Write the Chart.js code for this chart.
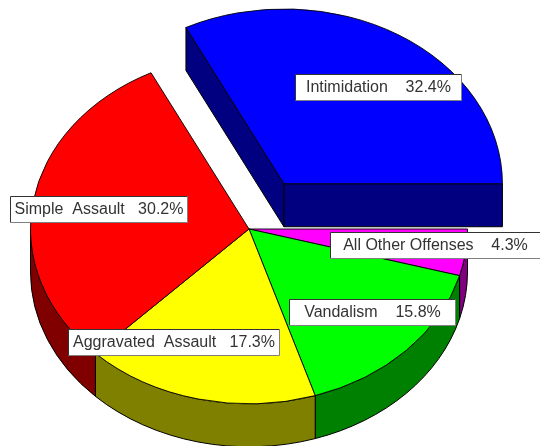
<!DOCTYPE html>
<html>
<head>
<meta charset="utf-8">
<script src="https://cdn.jsdelivr.net/npm/chart.js@4"></script>
<style>
    html, body { margin: 0; padding: 0; background: #fff; }
    canvas { display: block; }
</style>
</head>
<body>
<canvas id="pieChart" width="540" height="446"></canvas>
<script>
// --- Data ---
const categories = ['Intimidation', 'All Other Offenses', 'Vandalism', 'Aggravated Assault', 'Simple Assault'];
const shares = [32.4, 4.3, 15.8, 17.3, 30.2];
const topColors = ['#0000ff', '#ff00ff', '#00ff00', '#ffff00', '#ff0000'];
const sideColors = ['#000080', '#800080', '#008000', '#808000', '#800000'];

// label text uses wide gaps like the original
const labelTexts = ['Intimidation    32.4%', 'All Other Offenses    4.3%', 'Vandalism    15.8%', 'Aggravated  Assault   17.3%', 'Simple  Assault   30.2%'];

// --- Layout of the fake 3D look ---
const tilt = 0.80;       // squash of the circle into an ellipse
const depth = 43;        // wall height in px
const explode = 66.5;    // how far the first slice is pulled out
// label boxes: left, top, right, bottom
const labelBoxes = [
    [295.5, 74.5, 461.5, 100.5],
    [330.5, 232.5, 540.5, 258.5],
    [289.5, 299.5, 455.5, 325.5],
    [68.5, 329.5, 279.5, 355.5],
    [10.5, 196.5, 187.5, 222.5]
];

const pie3d = {
    id: 'pie3d',
    beforeDatasetsDraw(chart) {
        const ctx = chart.ctx;
        const arcs = chart.getDatasetMeta(0).data;

        ctx.save();
        ctx.lineWidth = 1;
        ctx.strokeStyle = '#000';
        ctx.lineJoin = 'round';

        // walls first
        arcs.forEach((arc, i) => {
            const shift = sliceShift(arc, i);
            const cx = arc.x + shift.x;
            const cy = arc.y + shift.y;
            const r = arc.outerRadius;
            ctx.fillStyle = sideColors[i];

            // outer rim, only the part that faces us
            const from = Math.max(arc.startAngle, 0);
            const to = Math.min(arc.endAngle, Math.PI);
            if (to > from) {
                ctx.beginPath();
                ctx.ellipse(cx, cy, r, r * tilt, 0, from, to);
                ctx.ellipse(cx, cy + depth, r, r * tilt, 0, to, from, true);
                ctx.closePath();
                ctx.fill();
                ctx.stroke();
            }

            // cut faces show only on the pulled out slice
            if (i === 0) {
                [arc.startAngle, arc.endAngle].forEach(a => {
                    const ex = cx + r * Math.cos(a);
                    const ey = cy + r * tilt * Math.sin(a);
                    ctx.beginPath();
                    ctx.moveTo(cx, cy);
                    ctx.lineTo(ex, ey);
                    ctx.lineTo(ex, ey + depth);
                    ctx.lineTo(cx, cy + depth);
                    ctx.closePath();
                    ctx.fill();
                    ctx.stroke();
                });
            }
        });

        // then the top faces, the library's own arcs squashed by the tilt
        arcs.forEach((arc, i) => {
            const shift = sliceShift(arc, i);
            ctx.save();
            ctx.translate(arc.x + shift.x, arc.y + shift.y);
            ctx.scale(1, tilt);
            ctx.translate(-arc.x, -arc.y);
            arc.draw(ctx);
            ctx.restore();
        });
        ctx.restore();
        return false; // already drawn
    },
    afterDraw(chart) {
        const ctx = chart.ctx;
        ctx.save();
        ctx.font = '16px "Liberation Sans", Arial, sans-serif';
        ctx.textAlign = 'center';
        ctx.textBaseline = 'middle';
        labelTexts.forEach((text, i) => {
            const [l, t, r, b] = labelBoxes[i];
            ctx.fillStyle = '#fff';
            ctx.fillRect(l, t, r - l, b - t);
            ctx.strokeStyle = '#333';
            ctx.lineWidth = 1;
            ctx.beginPath();
            ctx.moveTo(l, b);
            ctx.lineTo(l, t);
            ctx.lineTo(r, t);
            ctx.stroke();
            ctx.strokeStyle = '#808080';
            ctx.beginPath();
            ctx.moveTo(r, t);
            ctx.lineTo(r, b);
            ctx.lineTo(l, b);
            ctx.stroke();
            ctx.fillStyle = '#333';
            ctx.fillText(text, (l + r) / 2, (t + b) / 2 + 0.5);
        });
        ctx.restore();
    }
};

function sliceShift(arc, i) {
    if (i !== 0) return { x: 0, y: 0 };
    const mid = (arc.startAngle + arc.endAngle) / 2;
    return { x: explode * Math.cos(mid), y: explode * tilt * Math.sin(mid) };
}

new Chart(document.getElementById('pieChart').getContext('2d'), {
    type: 'pie',
    data: {
        labels: categories,
        datasets: [{
            data: shares,
            backgroundColor: topColors,
            borderColor: '#000',
            borderWidth: 1,
            radius: 218.5
        }]
    },
    options: {
        responsive: false,
        animation: false,
        rotation: 90 - shares[0] * 3.6, // first slice ends pointing east
        layout: { padding: { right: 42, top: 12 } },
        events: [],
        plugins: {
            legend: { display: false },
            tooltip: { enabled: false }
        }
    },
    plugins: [pie3d]
});
</script>
</body>
</html>
